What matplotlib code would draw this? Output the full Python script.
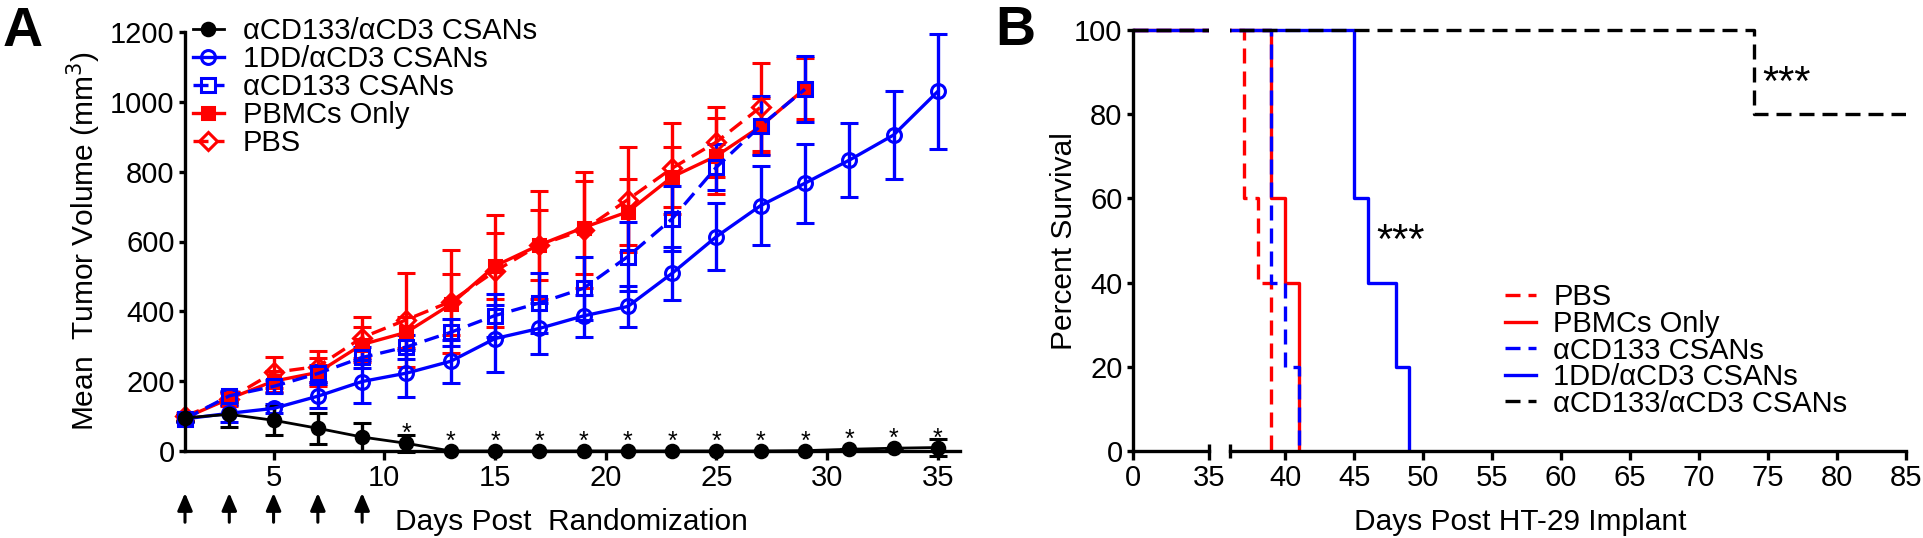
import matplotlib
matplotlib.use("Agg")
import matplotlib.pyplot as plt

plt.rcParams["font.family"] = ["Liberation Sans", "DejaVu Sans"]

# ---- Panel A: tumor volume, mean +/- SEM ----
days_long = [1, 3, 5, 7, 9, 11, 13, 15, 17, 19, 21, 23, 25, 27, 29, 31, 33, 35]
days_29 = [1, 3, 5, 7, 9, 11, 13, 15, 17, 19, 21, 23, 25, 27, 29]
days_27 = [1, 3, 5, 7, 9, 11, 13, 15, 17, 19, 21, 23, 25, 27]

cd133_cd3_mean = [95, 105, 88, 65, 40, 22, 0, 0, 0, 0, 0, 0, 0, 0, 1, 5, 8, 10]
cd133_cd3_sem = [8, 35, 42, 45, 40, 24, 0, 0, 0, 0, 0, 0, 0, 0, 0, 0, 0, 24]

dd_cd3_mean = [92, 108, 122, 157, 199, 223, 257, 322, 351, 387, 414, 509, 614, 703, 767, 833, 905, 1030]
dd_cd3_sem = [10, 25, 12, 35, 62, 67, 62, 95, 72, 60, 58, 76, 97, 113, 113, 106, 125, 165]

cd133_mean = [92, 158, 185, 222, 268, 298, 340, 388, 424, 466, 557, 665, 813, 932, 1036]
cd133_sem = [8, 15, 18, 25, 30, 35, 38, 62, 85, 90, 100, 93, 66, 85, 95]

pbmc_mean = [95, 150, 200, 225, 305, 340, 420, 530, 590, 640, 685, 785, 845, 930, 1038]
pbmc_sem = [8, 15, 30, 40, 50, 45, 88, 95, 100, 132, 95, 85, 110, 80, 87]

pbs_mean = [100, 150, 225, 242, 325, 376, 428, 515, 590, 633, 720, 810, 885, 985]
pbs_sem = [10, 20, 45, 45, 60, 135, 147, 160, 155, 165, 150, 130, 100, 125]

star_days = [11, 13, 15, 17, 19, 21, 23, 25, 27, 29, 31, 33, 35]
dose_days = [1, 3, 5, 7, 9]

# ---- Panel B: Kaplan-Meier survival ----
surv_pbs_t = [0, 37, 38, 39]
surv_pbs = [100, 60, 40, 0]
surv_pbmc_t = [0, 39, 40, 41]
surv_pbmc = [100, 60, 40, 0]
surv_cd133_t = [0, 39, 40, 41]
surv_cd133 = [100, 40, 20, 0]
surv_dd_t = [0, 45, 46, 48, 49]
surv_dd = [100, 60, 40, 20, 0]
surv_cd133_cd3_t = [0, 74, 85]
surv_cd133_cd3 = [100, 80, 80]

W, H = 1923, 538
fig = plt.figure(figsize=(W / 100, H / 100), dpi=100)


def px_rect(x0, y_top, x1, y_bot):
    return [x0 / W, 1 - y_bot / H, (x1 - x0) / W, (y_bot - y_top) / H]


LW = 2.4
TICK_FS = 21
LAB_FS = 21.5
DASH = (4.5, 2.4)

# ================= Panel A =================
ax = fig.add_axes(px_rect(185, 32, 960, 451))
ax.set_xlim(1, 36)
ax.set_ylim(0, 1200)

series_a = [
    ("PBS", days_27, pbs_mean, pbs_sem, "red", "--", "D", "none", 9),
    ("PBMCs Only", days_29, pbmc_mean, pbmc_sem, "red", "-", "s", "red", 9),
    ("\u03b1CD133 CSANs", days_29, cd133_mean, cd133_sem, "blue", "--", "s", "none", 10),
    ("1DD/\u03b1CD3 CSANs", days_long, dd_cd3_mean, dd_cd3_sem, "blue", "-", "o", "none", 10),
    ("\u03b1CD133/\u03b1CD3 CSANs", days_long, cd133_cd3_mean, cd133_cd3_sem, "black", "-", "o", "black", 9),
]
handles = {}
for label, d, m, e, c, ls, mk, mfc, ms in series_a:
    lw = 2.0 if c == "black" else LW
    cont = ax.errorbar(d, m, yerr=e, color=c, ls=ls, lw=lw, marker=mk, ms=ms,
                       mfc=mfc, mec=c, mew=2.2, elinewidth=LW, capsize=6.5,
                       capthick=LW, label=label)
    line = cont[0]
    if ls == "--":
        line.set_dashes(DASH)
    for art in [line, *cont[1], *cont[2]]:
        art.set_clip_on(False)
    handles[label] = line

order_a = ["\u03b1CD133/\u03b1CD3 CSANs", "1DD/\u03b1CD3 CSANs", "\u03b1CD133 CSANs",
           "PBMCs Only", "PBS"]
ax.legend([handles[k] for k in order_a], order_a, loc="upper left",
          bbox_to_anchor=(0.0103, 1.035), frameon=False, fontsize=21,
          borderpad=0, borderaxespad=0, handlelength=1.05, handletextpad=0.65,
          labelspacing=0.0, numpoints=1)

# significance stars above the aCD133/aCD3 group
for d in star_days:
    m = cd133_cd3_mean[days_long.index(d)]
    ax.annotate("*", xy=(d, m), xytext=(0, 1.5), textcoords="offset points",
                ha="center", va="baseline", fontsize=18, annotation_clip=False)

# dosing arrows
for d in dose_days:
    ax.annotate("", xy=(d, -0.100), xytext=(d, -0.170),
                xycoords=ax.get_xaxis_transform(), annotation_clip=False,
                arrowprops=dict(arrowstyle="-|>,head_length=0.7,head_width=0.3",
                                color="black", lw=2.2, shrinkA=0, shrinkB=0,
                                mutation_scale=15))

for s in ["top", "right"]:
    ax.spines[s].set_visible(False)
for s in ["left", "bottom"]:
    ax.spines[s].set_linewidth(LW)
ax.set_xticks([5, 10, 15, 20, 25, 30, 35])
ax.set_yticks(range(0, 1201, 200))
ax.tick_params(axis="x", length=6.5, width=LW, labelsize=TICK_FS, pad=3)
ax.tick_params(axis="y", length=4.5, width=LW, labelsize=TICK_FS, pad=3)

fig.text(571 / W, 1 - 530 / H, "Days Post  Randomization", ha="center",
         va="baseline", fontsize=LAB_FS)
fig.text(94 / W, 1 - 241 / H, "Mean  Tumor Volume (mm$^3$)", rotation=90,
         rotation_mode="anchor", ha="center", va="baseline", fontsize=LAB_FS)
fig.text(3 / W, 1 - 46 / H, "A", fontsize=40, fontweight="bold", va="baseline")

# ================= Panel B =================
y_top_px = 451 - 101.5 * 4.21
ax1 = fig.add_axes(px_rect(1133, y_top_px, 1209, 451))
ax2 = fig.add_axes(px_rect(1230, y_top_px, 1906, 451))

series_b = [
    ("PBS", surv_pbs_t, surv_pbs, "red", "--"),
    ("PBMCs Only", surv_pbmc_t, surv_pbmc, "red", "-"),
    ("\u03b1CD133 CSANs", surv_cd133_t, surv_cd133, "blue", "--"),
    ("1DD/\u03b1CD3 CSANs", surv_dd_t, surv_dd, "blue", "-"),
    ("\u03b1CD133/\u03b1CD3 CSANs", surv_cd133_cd3_t, surv_cd133_cd3, "black", "--"),
]
for a in (ax1, ax2):
    for label, t, s, c, ls in series_b:
        ln, = a.plot(t, s, drawstyle="steps-post", color=c, lw=LW, ls=ls,
                     label=label)
        if ls == "--":
            ln.set_dashes(DASH)
    a.set_ylim(0, 101.5)
    for s in ["top", "right"]:
        a.spines[s].set_visible(False)
    a.spines["bottom"].set_linewidth(LW)
    a.tick_params(axis="x", length=6.5, width=LW, labelsize=TICK_FS, pad=3)

ax1.set_xlim(0, 35)
ax1.set_xticks([0, 35])
ax1.spines["left"].set_linewidth(LW)
ax1.spines["left"].set_bounds(0, 100)
ax1.set_yticks(range(0, 101, 20))
ax1.tick_params(axis="y", length=4.5, width=LW, labelsize=TICK_FS, pad=3)

ax2.set_xlim(36, 85)
ax2.set_xticks(range(40, 86, 5))
ax2.spines["left"].set_visible(False)
ax2.set_yticks([])

# axis break marks
ax1.plot([35, 35], [0, 1.7], color="black", lw=LW, clip_on=False,
         solid_capstyle="butt")
ax2.plot([36, 36], [-1.7, 1.7], color="black", lw=LW, clip_on=False,
         solid_capstyle="butt")

ax2.text(46.6, 47.0, "***", fontsize=30, ha="left", va="baseline")
ax2.text(74.6, 84.5, "***", fontsize=30, ha="left", va="baseline")

ax2.legend(loc="upper left", bbox_to_anchor=((1505 - 1230) / 676, 0.392),
           frameon=False, fontsize=21, borderpad=0, borderaxespad=0,
           handlelength=1.05, handletextpad=0.6, labelspacing=-0.05)

fig.text(1520 / W, 1 - 530 / H, "Days Post HT-29 Implant", ha="center",
         va="baseline", fontsize=LAB_FS)
fig.text(1072 / W, 1 - 241 / H, "Percent Survival", rotation=90,
         rotation_mode="anchor", ha="center", va="baseline", fontsize=LAB_FS)
fig.text(995 / W, 1 - 45 / H, "B", fontsize=40, fontweight="bold", va="baseline")

fig.savefig("out.png", dpi=100)
